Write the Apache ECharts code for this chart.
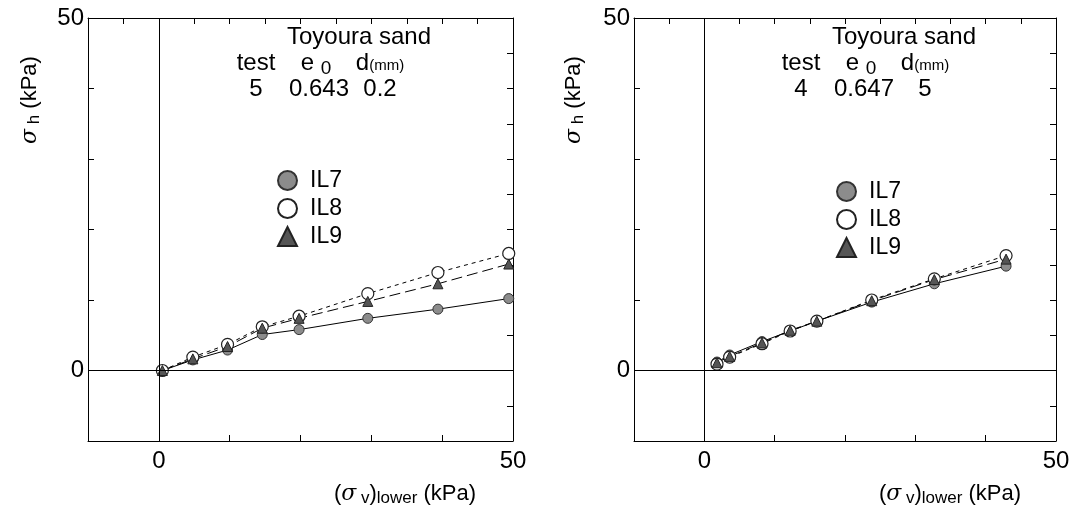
<!DOCTYPE html>
<html>
<head>
<meta charset="utf-8">
<script src="https://cdn.jsdelivr.net/npm/echarts@6/dist/echarts.min.js"></script>
<style>
html,body{margin:0;padding:0;background:#fff;}
#chart{width:1080px;height:510px;}
</style>
</head>
<body>
<div id="chart"></div>
<script>
// ---- data (kPa) ----
const xLeft   = [0.5, 4.8, 9.7, 14.6, 19.8, 29.5, 39.4, 49.4];
const il7Left = [0.0, 1.5, 2.9, 5.1, 5.8, 7.4, 8.7, 10.2];
const il8Left = [0.0, 1.9, 3.7, 6.2, 7.7, 10.9, 13.9, 16.6];
const il9Left = [0.0, 1.65, 3.4, 6.0, 7.4, 9.8, 12.3, 15.1];

const xRight   = [1.8, 3.6, 8.2, 12.2, 16.0, 23.8, 32.7, 42.9];
const il7Right = [1.2, 2.2, 4.1, 5.6, 7.0, 9.7, 12.3, 14.8];
const il8Right = [0.9, 1.9, 3.8, 5.6, 7.0, 10.0, 13.0, 16.3];
const il9Right = [1.1, 2.0, 3.9, 5.7, 7.0, 9.9, 12.9, 15.8];

const seriesNames = ['IL7', 'IL8', 'IL9'];
const axisMin = -10, axisMax = 50;
const labelTicks = [0, 50];

const pair = (xs, ys) => xs.map((x, i) => [x, ys[i]]);

const FONT = 'Liberation Sans, Arial, sans-serif';

function xAxes(gridIndex) {
  return [
    { type:'value', gridIndex, min:axisMin, max:axisMax, interval:10, position:'bottom',
      axisLine:{show:true, onZero:false, lineStyle:{color:'#000', width:1}},
      axisTick:{show:true, inside:true, length:6, lineStyle:{color:'#000'}},
      splitLine:{show:false},
      axisLabel:{show:true, color:'#000', fontSize:24, fontFamily:FONT, margin:8,
        formatter: v => labelTicks.includes(v) ? String(v) : ''} },
    { type:'value', gridIndex, min:axisMin, max:axisMax, interval:5, position:'top',
      axisLine:{show:true, onZero:false, lineStyle:{color:'#000', width:1}},
      axisTick:{show:true, inside:true, length:6, lineStyle:{color:'#000'}},
      splitLine:{show:false}, axisLabel:{show:false} }
  ];
}
function yAxes(gridIndex) {
  return [
    { type:'value', gridIndex, min:axisMin, max:axisMax, interval:10, position:'left',
      axisLine:{show:true, onZero:false, lineStyle:{color:'#000', width:1}},
      axisTick:{show:true, inside:true, length:6, lineStyle:{color:'#000'}},
      splitLine:{show:false},
      axisLabel:{show:true, color:'#000', fontSize:24, fontFamily:FONT, margin:4,
        formatter: v => labelTicks.includes(v) ? String(v) : ''} },
    { type:'value', gridIndex, min:axisMin, max:axisMax, interval:5, position:'right',
      axisLine:{show:true, onZero:false, lineStyle:{color:'#000', width:1}},
      axisTick:{show:true, inside:true, length:6, lineStyle:{color:'#000'}},
      splitLine:{show:false}, axisLabel:{show:false} }
  ];
}

const styles = {
  IL7: { symbol:'circle', size:10, item:{color:'#8c8c8c', borderColor:'#333', borderWidth:1}, line:{type:'solid'} },
  IL8: { symbol:'circle', size:12, item:{color:'#fff', borderColor:'#222', borderWidth:1.2}, line:{type:[4,4]} },
  IL9: { symbol:'triangle', size:10, item:{color:'#555', borderColor:'#222', borderWidth:1}, line:{type:[11,5]} }
};

function mkSeries(name, data, axisIdx, zeroLines) {
  const s = styles[name];
  const obj = {
    name, type:'line', data, xAxisIndex:axisIdx, yAxisIndex:axisIdx,
    symbol:s.symbol, symbolSize:s.size, showSymbol:true,
    itemStyle:s.item, lineStyle:{color:'#000', width:1, type:s.line.type},
    emphasis:{disabled:true}, animation:false, z:3
  };
  if (zeroLines) {
    obj.markLine = {
      silent:true, symbol:['none','none'], label:{show:false},
      lineStyle:{color:'#000', width:1, type:'solid'},
      data:[{xAxis:0}, {yAxis:0}], animation:false
    };
  }
  return obj;
}

const chart = echarts.init(document.getElementById('chart'), null, {renderer:'canvas'});

const legendCommon = {
  orient:'vertical', itemWidth:19, itemHeight:19, itemGap:5,
  textStyle:{fontSize:23, lineHeight:19, fontFamily:FONT, color:'#000', padding:[0,0,0,8]},
  selectedMode:false,
  data:[{name:'IL7', icon:'circle'}, {name:'IL8', icon:'circle'}, {name:'IL9', icon:'triangle'}]
};

function txt(x, y, text, size, align) {
  return { type:'text', x, y, silent:true,
    style:{ text, font: size + 'px ' + FONT, fill:'#000', textAlign: align || 'center', textVerticalAlign:'middle' } };
}
function rich(x, y, text, richDef, rotation, align) {
  return { type:'text', x, y, rotation: rotation || 0, silent:true,
    style:{ text, rich: richDef, fill:'#000', font:'22px ' + FONT, textAlign: align || 'center', textVerticalAlign:'middle' } };
}

const r = {
  n:{fontSize:22, fontFamily:FONT, color:'#000'},
  s:{fontSize:22, fontFamily:'DejaVu Serif, serif', fontStyle:'italic', color:'#000'},
  sub:{fontSize:17, fontFamily:FONT, color:'#000', verticalAlign:'bottom', padding:[9,0,0,0]},
  sm:{fontSize:15, fontFamily:FONT, color:'#000', padding:[5,0,0,0]},
  e:{fontSize:24, fontFamily:FONT, color:'#000'},
  z:{fontSize:19, fontFamily:FONT, color:'#000', padding:[11,0,0,0]}
};

function panelText(cx, row) {
  // cx: horizontal centre of the annotation block
  return [
    txt(cx, 37, 'Toyoura sand', 24),
    txt(cx - 103, 63, 'test', 24),
    rich(cx - 43, 63, '{e|e }{z|0}', r),
    rich(cx + 21, 63, '{e|d}{sm|(mm)}', r),
    txt(cx - 103, 89, row[0], 24),
    txt(cx - 40, 89, row[1], 24),
    txt(cx + 21, 89, row[2], 24)
  ];
}

const option = {
  backgroundColor:'#fff',
  animation:false,
  grid:[
    {left:88, top:18, width:425, height:423},
    {left:634, top:18, width:422, height:423}
  ],
  xAxis:[...xAxes(0), ...xAxes(1)],
  yAxis:[...yAxes(0), ...yAxes(1)],
  legend:[
    Object.assign({left:272, top:164}, legendCommon),
    Object.assign({left:831, top:175}, legendCommon)
  ],
  series:[
    mkSeries('IL7', pair(xLeft, il7Left), 0, true),
    mkSeries('IL8', pair(xLeft, il8Left), 0, false),
    mkSeries('IL9', pair(xLeft, il9Left), 0, false),
    mkSeries('IL7', pair(xRight, il7Right), 2, true),
    mkSeries('IL8', pair(xRight, il8Right), 2, false),
    mkSeries('IL9', pair(xRight, il9Right), 2, false)
  ],
  graphic:[
    ...panelText(359, ['5', '0.643', '0.2']),
    ...panelText(904, ['4', '0.647', '5']),
    rich(30, 100, '{s|σ}{sub| h} {n|(kPa)}', r, Math.PI/2),
    rich(574, 100, '{s|σ}{sub| h} {n|(kPa)}', r, Math.PI/2),
    rich(405, 494, '{n|(}{s|σ}{sub| v}{n|)}{sub|lower} {n|(kPa)}', r, 0),
    rich(950, 494, '{n|(}{s|σ}{sub| v}{n|)}{sub|lower} {n|(kPa)}', r, 0)
  ]
};
chart.setOption(option);
</script>
</body>
</html>
